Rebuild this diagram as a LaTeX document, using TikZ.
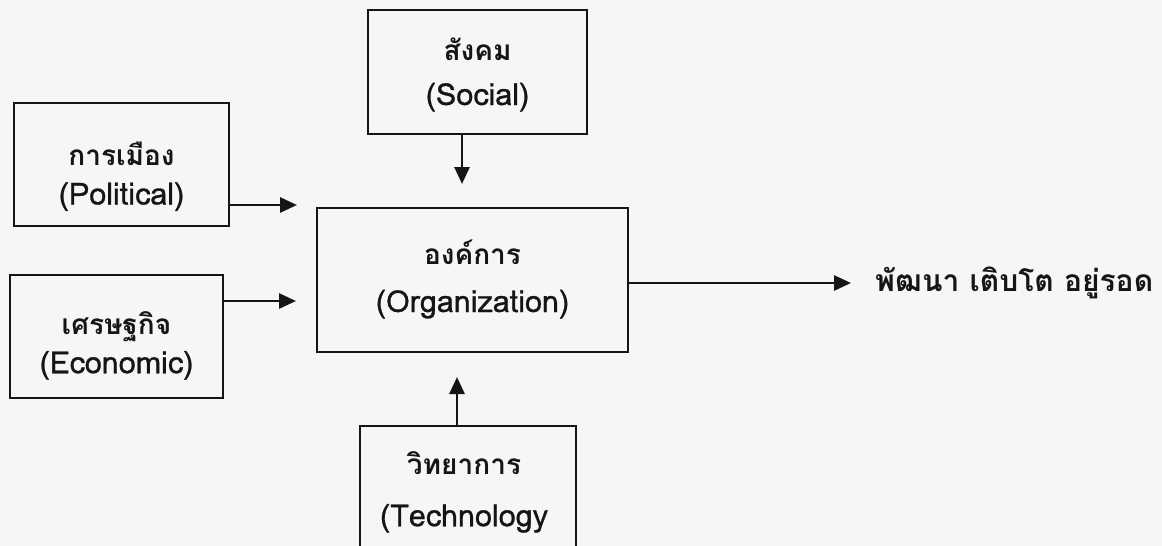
\documentclass[tikz,border=0pt]{standalone}
\usepackage{fontspec}
\newfontfamily\thaifont[Script=Thai,FakeBold=0.9]{Loma}
\newfontfamily\thaibold[Script=Thai]{Loma Bold}
\usetikzlibrary{arrows.meta}
\definecolor{paper}{HTML}{F6F6F4}
\definecolor{ink}{HTML}{151515}
\newcommand{\thword}[1]{{\thaibold\fontsize{28}{28}\selectfont #1}}
\tikzset{
  box/.style={draw=ink, line width=2.8pt, fill=paper, inner sep=0pt},
  lbl/.style={align=center, text=ink, inner sep=0pt},
  arr/.style={draw=ink, line width=2.8pt, -{Triangle[length=17pt,width=15pt]}},
}
\begin{document}
\begin{tikzpicture}[x=1pt,y=-1pt]
\useasboundingbox (0,0) rectangle (1162,546);
\clip (0,0) rectangle (1162,546);
\fill[paper] (0,0) rectangle (1162,546);
% boxes
\node[box, minimum width=219pt, minimum height=124pt] (soc) at (477.5,72) {};
\node[box, minimum width=215pt, minimum height=123pt] (pol) at (121.5,164.5) {};
\node[box, minimum width=213pt, minimum height=123pt] (eco) at (116.5,336.5) {};
\node[box, minimum width=311pt, minimum height=144pt] (org) at (472.5,280) {};
\node[box, minimum width=216pt, minimum height=150pt] (tec) at (468,501) {};
% labels
\node[lbl, font=\thaifont\fontsize{30.5}{45}\selectfont] (soct) at (477.5,74.5) {\thword{สังคม}\\(Social)};
\node[lbl, font=\thaifont\fontsize{30.5}{39}\selectfont] (polt) at (121.5,176.5) {\thword{การเมือง}\\(Political)};
\node[lbl, font=\thaifont\fontsize{30.5}{39}\selectfont] (ecot) at (116.5,345.5) {\thword{เศรษฐกิจ}\\(Economic)};
\node[lbl, font=\thaifont\fontsize{30.5}{48}\selectfont] (orgt) at (472.5,279) {\thword{องค์การ}\\(Organization)};
\node[lbl, font=\thaifont\fontsize{30.5}{52}\selectfont] (tect) at (464,492) {\thword{วิทยาการ}\\(Technology};
\node[text=ink, inner sep=0pt, anchor=base west, font=\thaibold\fontsize{30}{36}\selectfont] (res) at (875,291) {พัฒนา เติบโต อยู่รอด};
% arrow end points
\coordinate (socA) at (462,184);
\coordinate (polA) at (297,205);
\coordinate (ecoA) at (296,301);
\coordinate (orgA) at (851,283);
\coordinate (tecA) at (457,377);
% arrows
\draw[arr] (soc.south -| socA) -- (socA);
\draw[arr] (pol.east |- polA) -- (polA);
\draw[arr] (eco.east |- ecoA) -- (ecoA);
\draw[arr] (org.east |- orgA) -- (orgA);
\draw[arr] (tec.north -| tecA) -- (tecA);
\end{tikzpicture}
\end{document}
